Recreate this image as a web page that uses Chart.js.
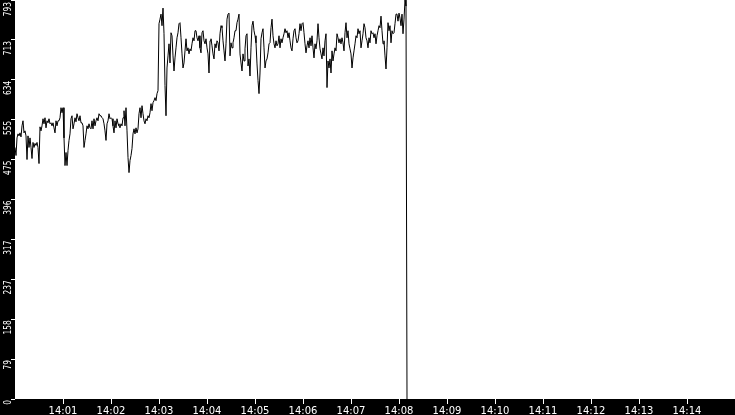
<!DOCTYPE html>
<html><head><meta charset="utf-8">
<script src="https://cdn.jsdelivr.net/npm/chart.js@4.4.1/dist/chart.umd.min.js"></script>
<style>html,body{margin:0;padding:0;background:#000;overflow:hidden}#wrap{position:relative;width:735px;height:415px}</style>
</head><body><div id="wrap"><canvas id="c"></canvas></div>
<script>
// seconds between samples (starting at 14:00:00)
const sampleSeconds = 1.25;
const values = [
500,484,519,527,523,529,521,543,553,529,
533,523,476,523,500,519,500,478,510,500,
508,504,510,500,468,541,533,543,557,547,
559,539,553,549,557,547,549,543,549,539,
529,553,543,553,553,559,579,569,579,519,
464,490,464,494,514,527,557,563,537,547,
559,551,567,559,553,563,549,549,543,500,
514,527,543,537,547,539,537,553,537,557,
543,553,559,553,567,563,563,559,557,547,
533,514,547,553,567,557,559,557,
543,529,553,539,557,547,543,539,547,543,
559,573,543,579,533,480,450,474,484,498,
527,537,527,539,529,537,567,579,559,583,
567,553,547,557,553,563,559,569,587,573,
589,593,599,593,607,613,746,755,765,742,
777,726,623,563,658,682,706,668,728,722,
682,652,678,698,718,728,746,748,718,686,
658,668,692,716,692,698,686,696,692,706,
718,712,732,732,718,712,722,698,688,728,
732,712,706,716,698,686,648,
712,716,702,686,676,706,698,712,708,692,
726,742,738,712,692,672,706,755,765,767,
682,708,698,708,718,732,732,748,755,765,
686,668,652,686,672,696,722,726,662,676,
642,698,742,751,732,722,708,666,633,607,
648,716,728,736,698,658,672,676,688,706,
708,738,755,722,706,698,712,702,706,722,
698,716,708,718,726,736,728,732,718,728,
712,698,692,716,732,736,718,708,712,726,
746,732,746,748,728,706,688,
702,712,698,718,702,722,698,678,706,696,
712,746,718,696,686,676,698,682,712,726,
619,672,658,676,648,692,672,686,698,692,
726,718,708,716,706,718,708,692,728,748,
718,732,706,696,686,658,678,692,706,722,
718,736,726,732,698,712,726,746,738,718,
712,698,718,708,732,726,728,718,726,706,
722,732,742,738,761,732,706,712,682,656,
698,748,732,742,708,732,726,728,746,765,
765,751,767,757,742,765,726,755,793,781,
0
];
const xTickLabels = ['14:00','14:01','14:02','14:03','14:04','14:05','14:06','14:07','14:08','14:09','14:10','14:11','14:12','14:13','14:14','14:15'];
const yTickLabels = ['0','79','158','237','317','396','475','555','634','713','793'];
const yMax = 793.1;
const xMaxSeconds = 900;

const points = values.map((v, i) => ({x: i * sampleSeconds, y: v}));

const bgPlugin = {
  id: 'bg',
  beforeDraw(chart) {
    const a = chart.chartArea, ctx = chart.ctx;
    ctx.save();
    ctx.fillStyle = '#000';
    ctx.fillRect(0, 0, chart.width, chart.height);
    ctx.fillStyle = '#fff';
    ctx.fillRect(a.left, a.top, a.right - a.left, a.bottom - a.top);
    ctx.restore();
  }
};

const yLabelPlugin = {
  id: 'yLabels',
  afterDraw(chart) {
    const s = chart.scales.y, ctx = chart.ctx;
    ctx.save();
    ctx.fillStyle = '#fff';
    ctx.font = '11px "DejaVu Sans"';
    ctx.textAlign = 'right';
    ctx.textBaseline = 'alphabetic';
    s.ticks.forEach((t, i) => {
      const y = Math.max(s.getPixelForValue(t.value) + 1, 2);
      ctx.save();
      ctx.translate(10.5, y);
      ctx.rotate(-Math.PI / 2);
      ctx.scale(0.68, 1);
      ctx.fillText(yTickLabels[i], 0, 0);
      ctx.restore();
    });
    ctx.restore();
  }
};

new Chart(document.getElementById('c'), {
  type: 'line',
  data: {
    datasets: [{
      data: points,
      borderColor: '#000',
      borderWidth: 1,
      pointRadius: 0,
      tension: 0,
      fill: false
    }]
  },
  options: {
    responsive: true,
    maintainAspectRatio: false,
    animation: false,
    layout: {padding: 0},
    plugins: {legend: {display: false}, tooltip: {enabled: false}, title: {display: false}},
    scales: {
      x: {
        type: 'linear',
        min: 0,
        max: xMaxSeconds,
        afterFit(scale) { scale.height = 16; },
        afterBuildTicks(scale) {
          scale.ticks = xTickLabels.map((_, i) => ({value: i * 60}));
        },
        ticks: {
          autoSkip: false,
          maxRotation: 0,
          minRotation: 0,
          color: '#fff',
          padding: 1,
          font: {family: 'DejaVu Sans', size: 10},
          callback(value, index) {
            if (index === 0 || index === xTickLabels.length - 1) return null;
            return xTickLabels[index];
          }
        },
        grid: {drawOnChartArea: false, drawTicks: true, tickLength: 5, color: '#fff', lineWidth: 1},
        border: {display: false}
      },
      y: {
        type: 'linear',
        min: 0,
        max: yMax,
        afterFit(scale) { scale.width = 15; },
        afterBuildTicks(scale) {
          scale.ticks = yTickLabels.map((_, i) => ({value: i * yMax / 10}));
        },
        ticks: {display: false},
        grid: {drawOnChartArea: false, drawTicks: true, tickLength: 4, color: '#fff', lineWidth: 1},
        border: {display: false}
      }
    }
  },
  plugins: [bgPlugin, yLabelPlugin]
});
</script>
</body></html>
